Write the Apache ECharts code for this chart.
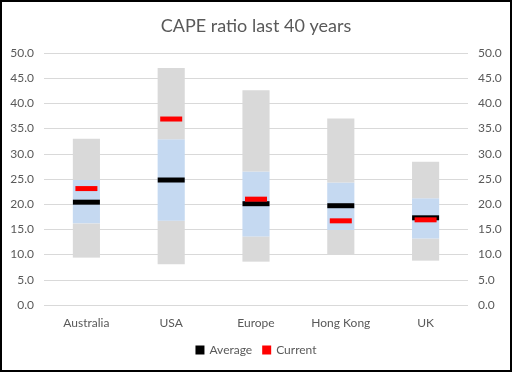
<!DOCTYPE html>
<html><head><meta charset="utf-8">
<script src="https://cdn.jsdelivr.net/npm/echarts@6/dist/echarts.min.js"></script>
<style>html,body{margin:0;padding:0;background:#fff}#c{width:512px;height:372px}</style>
</head><body><div id="c"></div>
<script>
const categories = ['Australia', 'USA', 'Europe', 'Hong Kong', 'UK'];
const minVals = [9.4, 8.1, 8.6, 10.1, 8.8];
const lowBand = [16.2, 16.7, 13.6, 14.9, 13.2];
const highBand = [24.8, 32.9, 26.5, 24.3, 21.2];
const maxVals = [33.0, 47.0, 42.6, 37.0, 28.4];
const average = [20.4, 24.8, 20.1, 19.7, 17.3];
const current = [23.1, 36.9, 21.0, 16.7, 16.9];

const font = 'Lato, "Open Sans", sans-serif';
const seg1 = lowBand.map((v, i) => +(v - minVals[i]).toFixed(2));
const seg2 = highBand.map((v, i) => +(v - lowBand[i]).toFixed(2));
const seg3 = maxVals.map((v, i) => +(v - highBand[i]).toFixed(2));

const yAxisBase = {
  type: 'value', min: 0, max: 50, interval: 5,
  axisLine: { show: false }, axisTick: { show: false },
  axisLabel: { formatter: v => v.toFixed(1), color: '#595959', fontFamily: font, fontSize: 12, margin: 10 }
};

const chart = echarts.init(document.getElementById('c'));
chart.setOption({
  animation: false,
  title: { text: 'CAPE ratio last 40 years', left: 'center', top: 12,
    textStyle: { fontFamily: font, fontSize: 18, fontWeight: 'normal', color: '#595959' } },
  grid: { left: 44, right: 44, top: 53, bottom: 67, containLabel: false },
  legend: { data: ['Average', 'Current'], bottom: 11, icon: 'rect', itemWidth: 9, itemHeight: 9, itemGap: 10,
    textStyle: { fontFamily: font, fontSize: 12, color: '#595959' } },
  xAxis: { type: 'category', data: categories,
    axisLine: { show: false }, axisTick: { show: false },
    axisLabel: { color: '#595959', fontFamily: font, fontSize: 12, margin: 12 } },
  yAxis: [
    Object.assign({}, yAxisBase, { position: 'left', splitLine: { lineStyle: { color: '#d9d9d9', width: 1 } } }),
    Object.assign({}, yAxisBase, { position: 'right', splitLine: { show: false } })
  ],
  graphic: [{ type: 'rect', shape: { x: 1, y: 1, width: 510, height: 370 }, style: { fill: 'none', stroke: '#000', lineWidth: 2 }, silent: true }],
  series: [
    { name: 'base', type: 'bar', stack: 's', barWidth: '32%', data: minVals, itemStyle: { color: 'rgba(0,0,0,0)' }, silent: true },
    { name: 'low', type: 'bar', stack: 's', data: seg1, itemStyle: { color: '#d9d9d9' } },
    { name: 'band', type: 'bar', stack: 's', data: seg2, itemStyle: { color: '#c5d9f1' } },
    { name: 'high', type: 'bar', stack: 's', data: seg3, itemStyle: { color: '#d9d9d9' } },
    { name: 'Average', type: 'scatter', data: average, symbol: 'rect', symbolSize: [27, 5], itemStyle: { color: '#000', opacity: 1 }, z: 5 },
    { name: 'Current', type: 'scatter', data: current, symbol: 'rect', symbolSize: [22, 5], itemStyle: { color: '#ff0000', opacity: 1 }, z: 6 }
  ]
});
</script></body></html>
